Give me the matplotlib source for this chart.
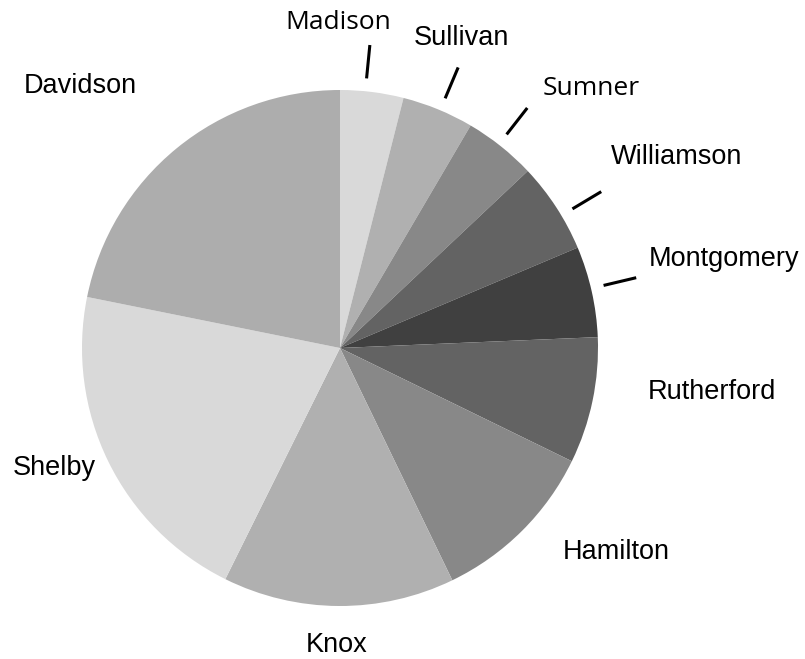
import numpy as np
import matplotlib.pyplot as plt

# counties clockwise from 12 o'clock
counties = ['Madison', 'Sullivan', 'Sumner', 'Williamson', 'Montgomery',
            'Rutherford', 'Hamilton', 'Knox', 'Shelby', 'Davidson']
shares = [3.96, 4.49, 4.52, 5.67, 5.69, 7.90, 10.60, 14.50, 20.84, 21.83]
colors = ['#d9d9d9', '#b0b0b0', '#888888', '#636363', '#404040',
          '#636363', '#888888', '#b0b0b0', '#d9d9d9', '#adadad']

# label placement tweaks (radius factor, angle nudge in degrees, leader line nudge)
lab_r = [1.26, 1.29, 1.40, 1.50, 1.53, 1.45, 1.33, 1.15, 1.20, 1.43]
lab_da = [-7.5, -1.0, 5.6, 3.6, -0.4, -5.1, -8.7, 0.3, 3.3, -5.4]
leader_da = [-1.5, 0.5, -0.6, 2.2, -0.7, None, None, None, None, None]
lab_font = ['Open Sans', 'Liberation Sans', 'Open Sans', 'Liberation Sans',
            'Liberation Sans', 'Liberation Sans', 'Liberation Sans', 'Liberation Sans',
            'Liberation Sans', 'Liberation Sans']

W, H = 805, 659
cx, cy, R = 340, 348, 258

fig = plt.figure(figsize=(W / 100, H / 100), dpi=100)
ax = fig.add_axes([0, 0, 1, 1])
ax.pie(shares, colors=colors, startangle=90, counterclock=False, radius=1,
       wedgeprops=dict(linewidth=0))
ax.set_xlim(-cx / R, (W - cx) / R)
ax.set_ylim(-(H - cy) / R, cy / R)
ax.set_aspect('equal')
ax.axis('off')

frac = np.array(shares) / np.sum(shares)
cum = np.cumsum(frac)
mids = (cum - frac / 2) * 360  # degrees clockwise from top

for i, name in enumerate(counties):
    a = np.deg2rad(mids[i] + lab_da[i])
    fs = 19 if lab_font[i] == 'Open Sans' else 19.5
    ax.text(lab_r[i] * np.sin(a), lab_r[i] * np.cos(a), name,
            ha='center', va='center', fontsize=fs, family=lab_font[i], color='black')
    if leader_da[i] is not None:
        m = np.deg2rad(mids[i] + leader_da[i])
        ax.plot([1.05 * np.sin(m), 1.18 * np.sin(m)],
                [1.05 * np.cos(m), 1.18 * np.cos(m)],
                color='black', lw=2.2, solid_capstyle='butt')

fig.savefig('out.png', dpi=100)
